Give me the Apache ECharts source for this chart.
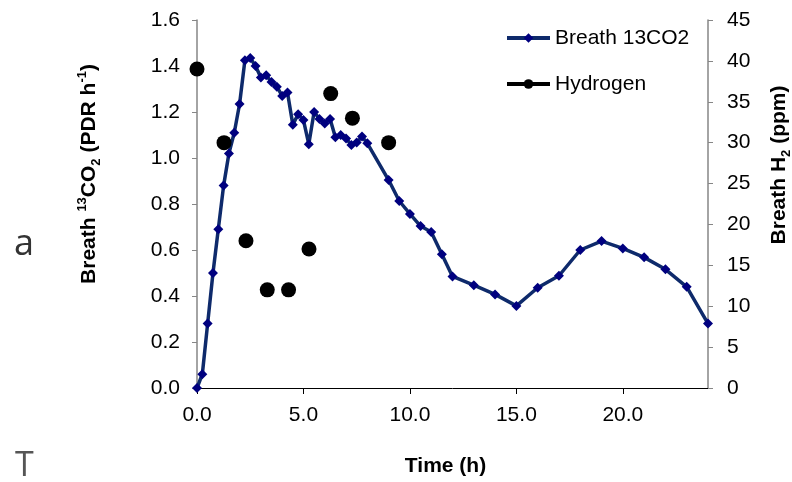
<!DOCTYPE html>
<html>
<head>
<meta charset="utf-8">
<script src="https://cdn.jsdelivr.net/npm/echarts@6/dist/echarts.min.js"></script>
<style>
html,body{margin:0;padding:0;background:#fff;}
#chart{width:792px;height:482px;}
</style>
</head>
<body>
<div id="chart"></div>
<script>
// Breath 13CO2 (PDR h-1) over time (h)
var co2Times = [0, 0.25, 0.5, 0.75, 1.0, 1.25, 1.5, 1.75, 2.0, 2.25, 2.5, 2.75, 3.0, 3.25, 3.5, 3.75, 4.0, 4.25, 4.5, 4.75, 5.0, 5.25, 5.5, 5.75, 6.0, 6.25, 6.5, 6.75, 7.0, 7.25, 7.5, 7.75, 8.0, 9.0, 9.5, 10, 10.5, 11, 11.5, 12, 13, 14, 15, 16, 17, 18, 19, 20, 21, 22, 23, 24];
var co2Values = [0, 0.06, 0.28, 0.50, 0.69, 0.88, 1.02, 1.11, 1.235, 1.425, 1.435, 1.40, 1.35, 1.36, 1.33, 1.31, 1.27, 1.285, 1.145, 1.19, 1.165, 1.06, 1.20, 1.17, 1.15, 1.17, 1.09, 1.10, 1.085, 1.057, 1.067, 1.093, 1.064, 0.904, 0.813, 0.757, 0.704, 0.678, 0.582, 0.485, 0.447, 0.407, 0.357, 0.436, 0.488, 0.60, 0.639, 0.607, 0.568, 0.516, 0.44, 0.28];
// Breath H2 (ppm)
var h2Times = [0, 1.27, 2.3, 3.3, 4.3, 5.26, 6.28, 7.3, 9.0];
var h2Values = [39, 30, 18, 12, 12, 17, 36, 33, 30];

var seriesNames = ['Breath 13CO2', 'Hydrogen'];

function pairs(xs, ys) { return xs.map(function (x, i) { return [x, ys[i]]; }); }

var FONT = 'Liberation Sans';
var chart = echarts.init(document.getElementById('chart'), null, {renderer: 'canvas'});
chart.setOption({
  animation: false,
  backgroundColor: '#fff',
  grid: {left: 197, right: 84, top: 20, bottom: 94, containLabel: false, outerBoundsMode: 'none'},
  legend: {
    orient: 'vertical', left: 500, top: 21, itemGap: 22,
    itemWidth: 43, itemHeight: 12,
    textStyle: {fontFamily: FONT, fontSize: 21, lineHeight: 24, color: '#000'},
    data: [
      {name: seriesNames[0], lineStyle: {color: '#0E2A6B', width: 4}},
      {name: seriesNames[1], lineStyle: {color: '#000', width: 4, opacity: 1}}
    ]
  },
  xAxis: {
    type: 'value', min: 0, max: 24, interval: 5,
    name: 'Time (h)', nameLocation: 'middle', nameGap: 68,
    nameTextStyle: {fontFamily: FONT, fontSize: 21, fontWeight: 'bold', color: '#000', padding: [0, 14, 0, 0]},
    axisLine: {show: true, lineStyle: {color: '#000', width: 1}},
    axisTick: {show: true, length: 6, lineStyle: {color: '#000'}},
    splitLine: {show: false},
    axisLabel: {showMaxLabel: false, margin: 17, fontFamily: FONT, fontSize: 21, color: '#000',
      formatter: function (v) { return v.toFixed(1); }}
  },
  yAxis: [{
    type: 'value', min: 0, max: 1.6, interval: 0.2, position: 'left',
    name: 'Breath {sup|13}CO{sub|2} (PDR h{sup|-1})', nameLocation: 'middle', nameGap: 94,
    nameTextStyle: {fontFamily: FONT, fontSize: 21, fontWeight: 'bold', color: '#000', lineHeight: 27,
      padding: [0, 0, 0, 60],
      rich: {
        sup: {fontFamily: FONT, fontSize: 13, fontWeight: 'bold', color: '#000', lineHeight: 14, verticalAlign: 'top'},
        sub: {fontFamily: FONT, fontSize: 13, fontWeight: 'bold', color: '#000', lineHeight: 14, verticalAlign: 'bottom'}
      }},
    axisLine: {show: true, lineStyle: {color: '#868686', width: 1.5}},
    axisTick: {show: true, length: 5, lineStyle: {color: '#868686'}},
    splitLine: {show: false},
    axisLabel: {margin: 17, fontFamily: FONT, fontSize: 21, color: '#000',
      formatter: function (v) { return v.toFixed(1); }}
  }, {
    type: 'value', min: 0, max: 45, interval: 5, position: 'right',
    name: 'Breath H{sub|2} (ppm)', nameLocation: 'middle', nameGap: 58,
    nameTextStyle: {fontFamily: FONT, fontSize: 21, fontWeight: 'bold', color: '#000', lineHeight: 27,
      padding: [0, 0, 0, 78],
      rich: {
        sub: {fontFamily: FONT, fontSize: 13, fontWeight: 'bold', color: '#000', lineHeight: 14, verticalAlign: 'bottom'}
      }},
    axisLine: {show: true, lineStyle: {color: '#868686', width: 1.5}},
    axisTick: {show: true, length: 5, lineStyle: {color: '#868686'}},
    splitLine: {show: false},
    axisLabel: {margin: 19, fontFamily: FONT, fontSize: 21, color: '#000'}
  }],
  graphic: [
    {type: 'text', left: 14, top: 227, style: {text: 'a', font: '36px "Open Sans"', fill: '#333'}},
    {type: 'text', left: 15, top: 449, style: {text: 'T', font: '34px "Open Sans"', fill: '#555'}}
  ],
  series: [{
    name: seriesNames[0], type: 'line', yAxisIndex: 0,
    data: pairs(co2Times, co2Values),
    symbol: 'diamond', symbolSize: 10,
    lineStyle: {color: '#0E2A6B', width: 3.5},
    itemStyle: {color: '#00007F'},
    z: 2
  }, {
    name: seriesNames[1], type: 'line', yAxisIndex: 1,
    data: pairs(h2Times, h2Values),
    symbol: 'circle', symbolSize: 15,
    lineStyle: {color: '#000', width: 4, opacity: 0},
    itemStyle: {color: '#000'},
    z: 3
  }]
});
</script>
</body>
</html>
